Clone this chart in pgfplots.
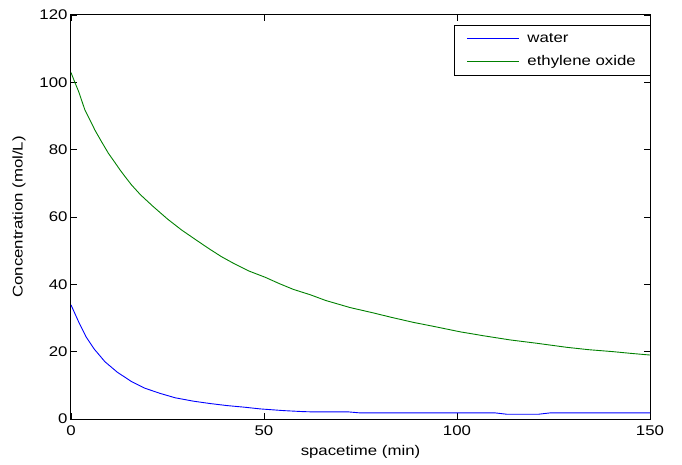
\documentclass[border=0pt]{standalone}
\usepackage{fontspec}
\setmainfont{Liberation Sans}[FakeStretch=1.2]
\usepackage{pgfplots}
\pgfplotsset{compat=1.18}
\newcommand{\chartfont}{\fontsize{14}{16}\selectfont}
\definecolor{mlblue}{RGB}{0,0,255}
\definecolor{mlgreen}{RGB}{0,128,0}
\begin{document}
\begin{tikzpicture}
\useasboundingbox (-71pt,-45pt) rectangle (611pt,419pt);
\begin{axis}[
    scale only axis, width=579pt, height=404pt,
    xmin=0, xmax=150, ymin=0, ymax=120,
    xtick={0,50,100,150}, ytick={0,20,40,60,80,100,120},
    tick align=inside, major tick length=6pt,
    axis line style={black, line width=1pt},
    tick style={black, line width=0.8pt},
    /pgf/number format/assume math mode=true,
    tick label style={font=\chartfont},
    xticklabel style={yshift=-3pt},
    xlabel={spacetime (min)}, ylabel={Concentration (mol/L)},
    every axis x label/.style={at={(axis description cs:0.5,-0.082)}, anchor=center, font=\chartfont},
    every axis y label/.style={at={(axis description cs:-0.0898,0.5)}, anchor=center, rotate=90, font=\chartfont},
    legend style={at={(rel axis cs:1,0.975)}, anchor=north east, font=\chartfont,
      inner xsep=12pt, inner ysep=6pt, row sep=8pt},
    legend cell align=left,
    legend image code/.code={\draw[#1, line width=0.8pt] (-2pt,0pt) -- (50pt,0pt);},
    /tikz/every odd column/.append style={column sep=6pt},
    every axis plot/.append style={line width=0.9pt},
  ]
\addplot[mlblue] coordinates {
  (0,33.9) (2,28.8) (3.9,24.4) (6,20.8) (8.8,17.0) (12,13.9) (15.7,11.1)
  (19,9.2) (23.1,7.6) (27,6.3) (31.7,5.3) (36,4.6) (40.3,4.0) (45,3.5)
  (49,3.0) (55,2.5) (60,2.2) (63,2.1) (72,2.1) (75,1.8) (90,1.8) (110,1.8)
  (113,1.4) (121,1.4) (124,1.8) (135,1.8) (150,1.8)};
\addlegendentry{water}
\addplot[mlgreen] coordinates {
  (0,102.9) (1,100.0) (2,97.2) (3.6,91.8) (5,88.6) (6.2,85.8) (8,82.2)
  (9.7,78.9) (11,76.8) (12.7,74.0) (14,72.0) (15.7,69.5) (18,66.6)
  (21.3,63.1) (25,59.4) (28.7,56.1) (32,53.5) (35.6,50.7) (39,48.2)
  (42.5,46.0) (46,44.0) (50.3,42.1) (54,40.2) (57.6,38.5) (62,36.9)
  (66,35.2) (72.3,33.1) (78,31.6) (83,30.2) (88.7,28.7) (94,27.5)
  (100.8,25.9) (107,24.7) (113.7,23.5) (120,22.6) (128.4,21.3)
  (134,20.6) (140.5,20.0) (145,19.5) (150,19.0)};
\addlegendentry{ethylene oxide}
\end{axis}
\end{tikzpicture}
\end{document}
